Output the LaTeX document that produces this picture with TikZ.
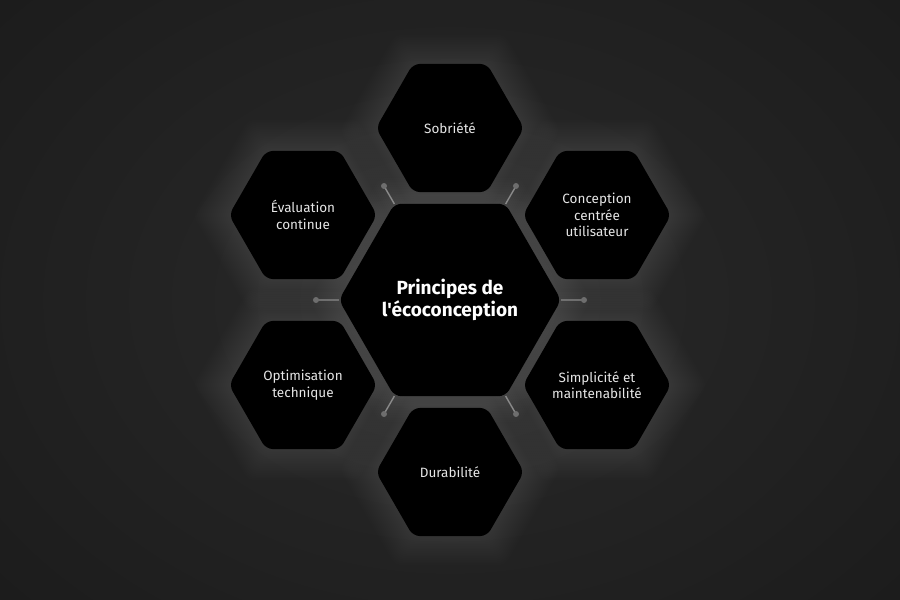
\documentclass[tikz,border=0pt]{standalone}
\usepackage{fontspec}
\setmainfont{Fira Sans}[Ligatures=TeXOff]
\usetikzlibrary{shapes.geometric,calc}
\definecolor{bgin}{HTML}{2A2A2A}
\definecolor{bgout}{HTML}{1C1C1C}
\definecolor{linkgrey}{HTML}{8A8A8A}
\definecolor{dotgrey}{HTML}{6E6E6E}
\definecolor{txt}{HTML}{E6E6E6}
\tikzset{
  hexshape/.style={regular polygon, regular polygon sides=6, inner sep=0pt, outer sep=0pt, rounded corners=7pt},
  hexbox/.style={hexshape, minimum size=148pt, fill=black, text=txt, align=center,
     font=\fontsize{13.5}{16.5}\selectfont},
  hexmain/.style={hexshape, minimum size=210pt, fill=black, text=white, align=center,
     font=\fontsize{19}{22.5}\selectfont\bfseries},
  glow/.style={hexshape, fill=white, fill opacity=0.0065},
  link/.style={draw=linkgrey, line width=1.4pt},
  linkdot/.style={circle, fill=dotgrey, inner sep=0pt, minimum size=6pt}
}
\begin{document}
\begin{tikzpicture}[x=1pt,y=-1pt]
\useasboundingbox (0,0) rectangle (900,600);
\shade[inner color=bgin, outer color=bgout] (-150,-150) rectangle (1050,750);
% glows
\foreach \px/\py/\s [count=\i] in {450/300/210, 450/130/148, 597/215/148, 597/385/148, 450/470/148, 303/385/148, 303/215/148} {
  \foreach \k in {1,...,18} {
    \node[glow, minimum size={(\s+4*\k)*1pt}] (glow-\i-\k) at (\px,\py) {};
  }
}
% dots
\coordinate (d1) at (384,186);
\coordinate (d2) at (516,186);
\coordinate (d3) at (316,300);
\coordinate (d4) at (584,300);
\coordinate (d5) at (384,414);
\coordinate (d6) at (516,414);
% hexagons
\node[hexbox] (sob) at (450,128) {Sobriété};
\node[hexbox] (conc) at (597,215) {Conception\\centrée\\utilisateur};
\node[hexbox] (simp) at (597,385) {Simplicité et\\maintenabilité};
\node[hexbox] (dura) at (450,472) {Durabilité};
\node[hexbox] (opti) at (303,385) {Optimisation\\technique};
\node[hexbox] (eval) at (303,215) {Évaluation\\continue};
\node[hexmain] (c) at (450,300) {Principes de\\l'écoconception};
% connectors
\foreach \j in {1,...,6} {
  \draw[link] (d\j) -- (c);
  \node[linkdot] (dot\j) at (d\j) {};
}
\end{tikzpicture}
\end{document}
